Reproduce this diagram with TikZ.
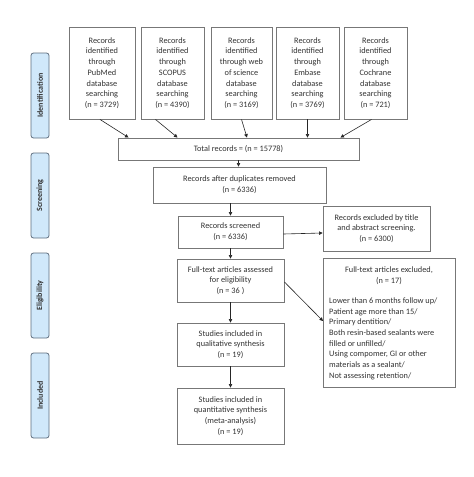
\documentclass[tikz,border=0pt]{standalone}
\usepackage{fontspec}
\setmainfont{Carlito}
\usetikzlibrary{arrows.meta}
\definecolor{boxline}{HTML}{777777}
\definecolor{labfill}{HTML}{D0E8FA}
\definecolor{labline}{HTML}{5E6E7E}
\definecolor{txt}{HTML}{333333}
\begin{document}
\begin{tikzpicture}[x=1pt,y=-1pt,
  box/.style={draw=boxline,line width=0.9pt,fill=white,align=center,inner sep=2pt,font=\fontsize{8.3}{10.7}\selectfont,text=txt},
  phase/.style={draw=labline,line width=0.8pt,fill=labfill,rounded corners=2.5pt},
  phtxt/.style={rotate=90,font=\bfseries\fontsize{8}{9}\selectfont,text=txt},
  arr/.style={-{Triangle[length=3.5pt,width=3.5pt]},draw=black!85,line width=0.6pt}]
\useasboundingbox (0,0) rectangle (474,477);
% phase labels
\node[phase,minimum width=18pt,minimum height=85pt] (idl) at (40,95.5) {};
\node[phtxt] (idt) at (idl) {Identification};
\node[phase,minimum width=18pt,minimum height=85pt] (scl) at (40,195.5) {};
\node[phtxt] (sct) at (scl) {Screening};
\node[phase,minimum width=18pt,minimum height=85pt] (ell) at (40,295.5) {};
\node[phtxt] (elt) at (ell) {Eligibility};
\node[phase,minimum width=18pt,minimum height=85pt] (inl) at (40,395.5) {};
\node[phtxt] (int) at (inl) {Included};
% top boxes
\node[box,minimum width=66pt,minimum height=92pt] (b1) at (102,73) {Records\\identified\\through\\PubMed\\database\\searching\\(n = 3729)};
\node[box,minimum width=63pt,minimum height=92pt] (b2) at (172.5,73) {Records\\identified\\through\\SCOPUS\\database\\searching\\(n = 4390)};
\node[box,minimum width=61pt,minimum height=92pt] (b3) at (241.5,73) {Records\\identified\\through web\\of science\\database\\searching\\(n = 3169)};
\node[box,minimum width=63pt,minimum height=92pt] (b4) at (307.5,73) {Records\\identified\\through\\Embase\\database\\searching\\(n = 3769)};
\node[box,minimum width=63pt,minimum height=92pt] (b5) at (375.5,73) {Records\\identified\\through\\Cochrane\\database\\searching\\(n = 721)};
% flow
\node[box,minimum width=241pt,minimum height=22pt] (tot) at (238.5,149) {Total records = (n = 15778)};
\node[box,minimum width=173pt,minimum height=36pt] (dup) at (239.5,185) {Records after duplicates removed\\(n = 6336)};
\node[box,minimum width=105pt,minimum height=32pt] (scr) at (230.5,232) {Records screened\\(n = 6336)};
\node[box,minimum width=107pt,minimum height=45pt] (exc1) at (376.5,228.5) {Records excluded by title\\and abstract screening.\\(n = 6300)};
\node[box,minimum width=107pt,minimum height=43pt] (ft) at (230.5,280.5) {Full-text articles assessed\\for eligibility\\(n = 36 )};
\node[box,minimum width=132pt,minimum height=129pt,anchor=north west,inner sep=0pt] (exc2) at (323,258) {};
\node[font=\fontsize{8.3}{10.7}\selectfont,text=txt,align=center] (exc2a) at (389,275.5) {Full-text articles excluded,\\(n = 17)};
\node[font=\fontsize{8.3}{10.7}\selectfont,text=txt,align=left,anchor=north west,inner sep=0pt] (exc2b) at (329,297.5) {Lower than 6 months follow up/\\Patient age more than 15/\\Primary dentition/\\Both resin-based sealants were\\filled or unfilled/\\Using compomer, GI or other\\materials as a sealant/\\Not assessing retention/};
\node[box,minimum width=107pt,minimum height=43pt] (qual) at (230.5,344.5) {Studies included in\\qualitative synthesis\\(n = 19)};
\node[box,minimum width=107pt,minimum height=56pt] (quan) at (230.5,416) {Studies included in\\quantitative synthesis\\(meta-analysis)\\(n = 19)};
% arrows
\draw[arr] ([xshift=-2pt]b1.south) -- ([xshift=-110pt]tot.north);
\draw[arr] ([xshift=-17pt]b2.south) -- ([xshift=-61pt]tot.north);
\draw[arr] (b3.south) -- ([xshift=8.5pt]tot.north);
\draw[arr] (b4.south) -- ([xshift=69pt]tot.north);
\draw[arr] ([xshift=-4pt]b5.south) -- ([xshift=102pt]tot.north);
\draw[arr] (tot.south) -- (tot.south |- dup.north);
\draw[arr] (scr.north |- dup.south) -- (scr.north);
\draw[arr] ([yshift=-2pt]scr.east) -- ([yshift=-4.5pt]exc1.west);
\draw[arr] (scr.south) -- (ft.north);
\draw[arr] ([yshift=-1.5pt]ft.east) -- ([yshift=-63pt]exc2.north west);
\draw[arr] (ft.south) -- (qual.north);
\draw[arr] (qual.south) -- (quan.north);
\end{tikzpicture}
\end{document}
